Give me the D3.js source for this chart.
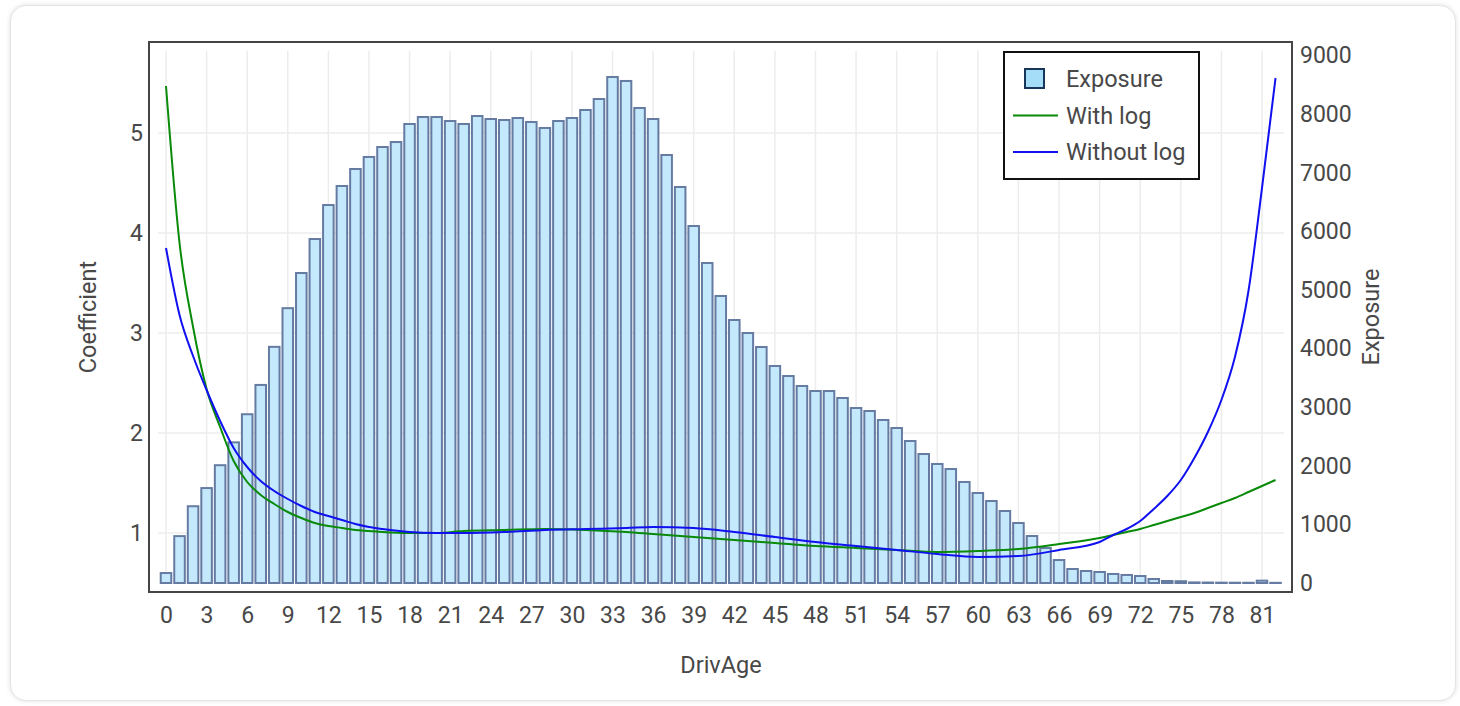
<!DOCTYPE html>
<html>
<head>
<meta charset="utf-8">
<script src="https://cdn.jsdelivr.net/npm/d3@7"></script>
<style>
  html, body { margin: 0; padding: 0; background: #fff; }
  body { width: 1460px; height: 706px; position: relative; overflow: hidden; font-family: Roboto, "Noto Sans", sans-serif; }
  .card { position: absolute; left: 10px; top: 5px; width: 1444px; height: 694px;
          border: 1px solid #e4e4e4; border-radius: 16px; box-shadow: 0 0 5px rgba(0,0,0,0.12); background: #fff; }
  svg { position: absolute; left: 0; top: 0; }
</style>
</head>
<body>
<div class="card"></div>
<svg id="chart" width="1460" height="706"></svg>
<script>
// exposure per driver age (bars, right axis)
const ages = d3.range(0, 83);
const exposure = [
  170, 800, 1310, 1620, 2010, 2400, 2880, 3380, 4030, 4690,
  5290, 5870, 6450, 6775, 7065, 7270, 7440, 7525, 7833, 7952,
  7952, 7884, 7833, 7969, 7918, 7901, 7935, 7867, 7765, 7884,
  7935, 8072, 8259, 8635, 8567, 8106, 7918, 7304, 6758, 6092,
  5461, 4898, 4488, 4266, 4027, 3703, 3532, 3362, 3276, 3276,
  3157, 2986, 2935, 2782, 2645, 2423, 2201, 2031, 1945, 1724,
  1536, 1399, 1229, 1024, 802, 597, 392, 239, 205, 188,
  154, 137, 119, 68, 34, 30, 10, 8, 6, 5,
  4, 40, 3
];

// coefficient curves (left axis), read at these ages
const curveAges = [0, 1, 2, 3, 4, 5, 6, 7, 8, 9, 10, 11, 12, 13, 14, 15, 16, 18, 20, 22, 25, 28, 31, 34, 36, 39, 42, 45, 48, 51, 54, 57, 60, 63, 66, 69, 70, 71, 72, 73, 74, 75, 76, 77, 78, 79, 80, 81, 82];
const withLog = [5.47, 3.90, 3.06, 2.44, 2.06, 1.72, 1.51, 1.38, 1.29, 1.21, 1.15, 1.10, 1.07, 1.05, 1.03, 1.02, 1.01, 1.00, 1.00, 1.02, 1.03, 1.04, 1.03, 1.01, 0.99, 0.96, 0.93, 0.90, 0.87, 0.85, 0.83, 0.81, 0.82, 0.84, 0.89, 0.95, 0.98, 1.01, 1.04, 1.08, 1.12, 1.16, 1.20, 1.25, 1.30, 1.35, 1.41, 1.47, 1.53];
const withoutLog = [3.85, 3.18, 2.77, 2.43, 2.12, 1.85, 1.66, 1.52, 1.42, 1.34, 1.27, 1.21, 1.17, 1.13, 1.09, 1.06, 1.04, 1.01, 1.00, 1.00, 1.01, 1.03, 1.04, 1.05, 1.06, 1.05, 1.01, 0.96, 0.91, 0.87, 0.83, 0.79, 0.76, 0.77, 0.83, 0.91, 0.98, 1.04, 1.12, 1.24, 1.37, 1.53, 1.75, 2.01, 2.33, 2.76, 3.42, 4.45, 5.55];

const coefTicks = [1, 2, 3, 4, 5];
const expTicks = [0, 1000, 2000, 3000, 4000, 5000, 6000, 7000, 8000, 9000];
const ageTicks = d3.range(0, 82, 3);

const legendItems = ["Exposure", "With log", "Without log"];
const lineColors = {"With log": "#098a09", "Without log": "#1010f0"};

const svg = d3.select("#chart");
const textColor = "#484848";

// plot frame
const frame = {left: 149, right: 1292, top: 42, bottom: 592};
const inner = {left: 158, right: 1284, top: 51, bottom: 583};

const x = d3.scaleLinear().domain([0, 81]).range([166, 1262]);
const yL = d3.scaleLinear().domain([0.5, 5]).range([583, 133]);
const yR = d3.scaleLinear().domain([0, 9000]).range([583, 55.6]);

// grid
svg.append("g")
  .selectAll("line")
  .data(ageTicks)
  .join("line")
    .attr("x1", d => x(d)).attr("x2", d => x(d))
    .attr("y1", inner.top).attr("y2", inner.bottom)
    .attr("stroke", "#ececec").attr("stroke-width", 1.5);

svg.append("g")
  .selectAll("line")
  .data(coefTicks)
  .join("line")
    .attr("x1", inner.left).attr("x2", inner.right)
    .attr("y1", d => yL(d)).attr("y2", d => yL(d))
    .attr("stroke", "#ececec").attr("stroke-width", 1.5);

// bars
const barW = (x(1) - x(0)) * 0.78;
svg.append("g")
  .selectAll("rect")
  .data(ages)
  .join("rect")
    .attr("x", d => x(d) - barW / 2)
    .attr("y", (d, i) => yR(exposure[i]))
    .attr("width", barW)
    .attr("height", (d, i) => yR(0) - yR(exposure[i]))
    .attr("fill", "#c4e9fc")
    .attr("stroke", "#657ba2")
    .attr("stroke-width", 2);

// curves
const line = d3.line()
  .x(d => x(d[0]))
  .y(d => yL(d[1]))
  .curve(d3.curveMonotoneX);

svg.append("path")
  .datum(curveAges.map((a, i) => [a, withLog[i]]))
  .attr("d", line)
  .attr("fill", "none")
  .attr("stroke", lineColors["With log"])
  .attr("stroke-width", 2);

svg.append("path")
  .datum(curveAges.map((a, i) => [a, withoutLog[i]]))
  .attr("d", line)
  .attr("fill", "none")
  .attr("stroke", lineColors["Without log"])
  .attr("stroke-width", 2);

// frame
svg.append("rect")
  .attr("x", frame.left).attr("y", frame.top)
  .attr("width", frame.right - frame.left)
  .attr("height", frame.bottom - frame.top)
  .attr("fill", "none")
  .attr("stroke", "#454545")
  .attr("stroke-width", 2);

// axes
function styleAxis(g) {
  g.select(".domain").remove();
  g.selectAll(".tick line").remove();
  g.selectAll("text")
    .attr("fill", textColor)
    .style("font-family", "Roboto, sans-serif")
    .style("font-size", "23px");
}

svg.append("g")
  .attr("transform", `translate(${frame.left - 4},0)`)
  .call(d3.axisLeft(yL).tickValues(coefTicks).tickFormat(d3.format("d")).tickSize(0).tickPadding(2))
  .call(styleAxis);

svg.append("g")
  .attr("transform", `translate(${frame.right + 6},0)`)
  .call(d3.axisRight(yR).tickValues(expTicks).tickFormat(d3.format("d")).tickSize(0).tickPadding(2))
  .call(styleAxis);

svg.append("g")
  .attr("transform", `translate(0,${frame.bottom + 13})`)
  .call(d3.axisBottom(x).tickValues(ageTicks).tickSize(0).tickPadding(2))
  .call(styleAxis);

// axis titles
svg.append("text")
  .attr("transform", "translate(96,317) rotate(-90)")
  .attr("text-anchor", "middle")
  .attr("fill", textColor)
  .style("font-size", "23.5px")
  .text("Coefficient");

svg.append("text")
  .attr("transform", "translate(1379,317) rotate(-90)")
  .attr("text-anchor", "middle")
  .attr("fill", textColor)
  .style("font-size", "23.5px")
  .text("Exposure");

svg.append("text")
  .attr("x", 721).attr("y", 673)
  .attr("text-anchor", "middle")
  .attr("fill", textColor)
  .style("font-size", "23.5px")
  .text("DrivAge");

// legend
const legend = svg.append("g");
legend.append("rect")
  .attr("x", 1004).attr("y", 52)
  .attr("width", 195).attr("height", 127)
  .attr("fill", "#fff")
  .attr("stroke", "#111")
  .attr("stroke-width", 2);

legendItems.forEach((name, i) => {
  const cy = 79 + i * 36.5;
  if (i === 0) {
    legend.append("rect")
      .attr("x", 1025).attr("y", cy - 10)
      .attr("width", 19).attr("height", 19)
      .attr("fill", "#a5dcf8")
      .attr("stroke", "#17365a")
      .attr("stroke-width", 2);
  } else {
    legend.append("line")
      .attr("x1", 1013).attr("x2", 1058)
      .attr("y1", cy).attr("y2", cy)
      .attr("stroke", lineColors[name])
      .attr("stroke-width", 2);
  }
  legend.append("text")
    .attr("x", 1066).attr("y", cy + 8)
    .attr("fill", textColor)
    .style("font-size", "23.5px")
    .text(name);
});
</script>
</body>
</html>
